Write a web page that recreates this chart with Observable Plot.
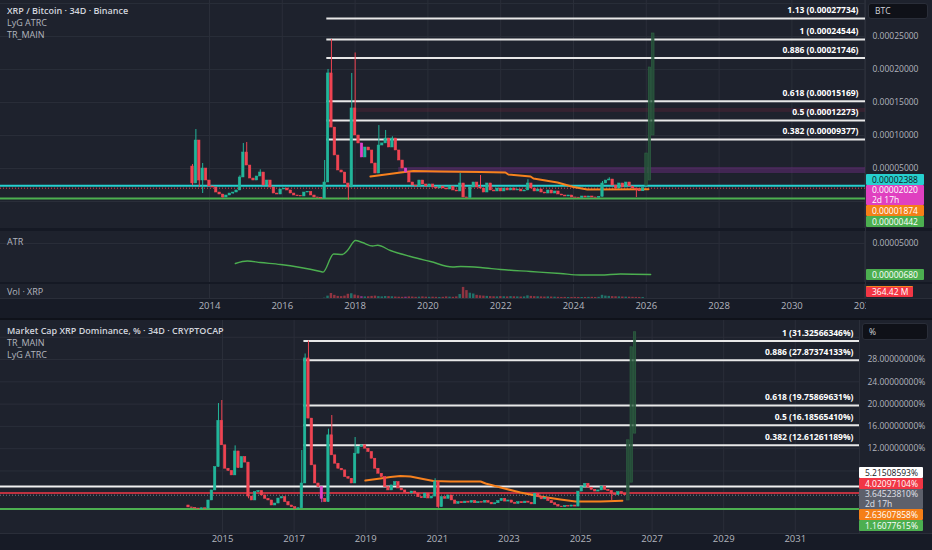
<!DOCTYPE html>
<html>
<head>
<meta charset="utf-8">
<script src="https://cdn.jsdelivr.net/npm/d3@7"></script>
<script src="https://cdn.jsdelivr.net/npm/@observablehq/plot@0.6"></script>
<style>
html,body{margin:0;padding:0;background:#1e222d;}
#chart{position:relative;width:932px;height:550px;overflow:hidden;background:#1e222d;font-family:"Open Sans","Noto Sans",sans-serif;}
#chart > div, #chart > svg{position:absolute;}
.hdr{left:7px;font-size:9px;line-height:11px;height:11px;color:#b2b5be;white-space:nowrap;}
.hdr.b{color:#d1d4dc;font-weight:600;}
.box{font-size:8.5px;line-height:11px;box-sizing:border-box;white-space:nowrap;border-radius:1px;overflow:hidden;}
.box.two{line-height:10px;}
</style>
</head>
<body>
<div id="chart"></div>
<script>
// ---------------- DATA ----------------
const STEP = 34 / 365.25; // one 34D candle, in years

// XRP / Bitcoin (Binance), values in µBTC (1e-6 BTC)
const xrpbtcStart = 2013.533;
const xrpbtcFirstOpen = 53;
const xrpbtcClose = [
  27.3, 92.4, 31.8, 50, 31.8, 22.7, 21.2, 13.6, 10.6, 6.1,
  9.1, 12.1, 13.6, 16.7, 36.4, 74.2, 54.5, 34.8, 31.8, 37.9,
  43.9, 24.2, 31.8, 21.2, 12.1, 10.6, 18.2, 19.7, 16.7, 12.1,
  9.1, 8.0, 7.6, 13.6, 14.5, 9.1, 6.1, 5.6, 4.5, 28.8,
  194, 112, 69.7, 47, 43.9, 27.3, 21.2, 141, 100, 87.9,
  66.7, 81.8, 77.3, 57.6, 42.4, 84.8, 88, 95.4, 81.8, 95.4,
  77.3, 62.1, 50, 43.9, 28.8, 24.2, 22.7, 31.8, 25.8, 22.7,
  25.8, 21.2, 19.7, 22.7, 19.7, 18.2, 22.7, 16.7, 15.2, 27.3,
  6.1, 5.5, 21.2, 28.8, 21.2, 19.7, 13.6, 27.3, 16.7, 15.2,
  19.7, 15.2, 19.7, 16.7, 19.7, 16.7, 18.2, 15.2, 16.7, 27.3,
  19.7, 15.2, 18.2, 13.6, 12.1, 16.7, 12.1, 15.2, 10.6, 9.1,
  7.6, 9.1, 6.1, 5.8, 5.5, 7.6, 6.1, 7.6, 6.1, 5.8,
  7.0, 27.3, 31.8, 33.3, 24.2, 19.7, 27.3, 21.2, 28.8, 22.7,
  19.7, 18.2, 15.5, 20.2
];
const xrpbtcHigh = [[0,56],[1,109],[3,57.6],[14,39],[15,87.9],[16,89.4],[20,48],[39,62.1],[40,200],[41,245.44],[47,194],[48,225],[55,115],[57,107.6],[59,98],[79,42.4],[85,39.4],[99,33],[121,30.3],[123,36]];
const xrpbtcLow = [[0,24],[2,21.2],[3,12.1],[9,5],[12,11],[38,4.42],[46,2],[131,6]];
const xrpbtcPink = [50, 63];
const xrpbtcProjected = [[24, 72.7], [31.8, 203], [100, 254.5]]; // [open, close]
const xrpbtcVolumeM = [
  3,4,3,2,2,3,2,2,1,1,2,2,2,2,5,8,6,4,3,3,4,3,3,2,2,2,2,3,3,2,2,2,2,3,3,2,2,2,3,
  120,900,1900,1200,800,700,900,1600,1800,1300,1000,700,600,650,800,900,700,600,750,700,650,550,
  500,450,500,600,550,450,500,600,500,450,500,450,400,450,600,500,450,600,
  1500,4200,3000,2000,1700,1200,
  1000,900,800,700,650,600,700,650,600,700,650,600,550,600,1000,800,700,650,600,550,
  600,550,500,450,400,420,380,400,420,400,380,400,420,450,400,450,1200,900,800,700,
  650,600,550,500,480,450,420,400,364.42
];
const xrpbtcAtr = [[2014.71,22.2],[2015.04,25.6],[2015.40,23.5],[2015.95,20.8],[2016.5,16.6],[2017.05,11.0],[2017.12,10.2],[2017.41,35.4],[2017.65,34.7],[2017.79,40.3],[2018.01,54.2],[2018.20,51.4],[2018.48,46.5],[2018.62,47.5],[2018.97,40.3],[2019.52,31.9],[2020.07,24.9],[2020.68,17.3],[2020.90,18],[2021.45,16.6],[2022.0,13.8],[2022.82,11.0],[2023.64,8.2],[2024.19,6.1],[2024.74,6.1],[2025.29,7.5],[2026.12,6.8]];
const xrpbtcTrend = [[2018.42,37.9],[2018.84,40.9],[2019.25,43.9],[2019.60,46.2],[2020.35,45.5],[2021.45,44.7],[2022.13,43.9],[2022.21,40.9],[2022.82,37.9],[2022.90,34.8],[2023.56,28.8],[2024.0,22.0],[2024.38,18.2],[2026.06,18.74]];
const xrpbtcFibLevels = [1.13, 1, 0.886, 0.618, 0.5, 0.382];
const xrpbtcFibValues = [277.34, 245.44, 217.46, 151.69, 122.73, 93.77];
const xrpbtcFibFrom = 40; // candle index where the fib lines start
const xrpbtcZones = [[2019.2, 42.4, 51.5, "rgba(110,45,130,0.45)"], [2018.0, 135, 141, "rgba(110,35,55,0.3)"]];
const xrpbtcLine = 23.88, xrpbtcLast = 20.20, xrpbtcTrendLast = 18.74, xrpbtcLowLine = 4.42, xrpbtcAtrLast = 6.80;
const topYears = [2014, 2016, 2018, 2020, 2022, 2024, 2026, 2028, 2030, 2032];
const topPriceTicks = [50, 100, 150, 200, 250];

// Market Cap XRP Dominance, %
const domStart = 2014.05;
const domFirstOpen = 1.8;
const domClose = [
  1.45, 1.35, 1.25, 1.17, 1.3, 1.22, 2.7, 4.5, 8.7, 17.0,
  12.6, 8.4, 8.0, 7.2, 11.5, 8.5, 10.5, 9.5, 3.4, 2.7,
  4.2, 4.4, 3.6, 3.0, 2.7, 1.8, 2.15, 3.05, 3.3, 2.4,
  1.8, 1.5, 1.2, 1.3, 5.75, 28.2, 17.4, 9.0, 5.75, 5.1,
  3.0, 2.4, 14.4, 10.8, 9.3, 8.4, 8.1, 6.9, 6.6, 5.75,
  11.1, 12.3, 12.6, 12.0, 11.4, 10.2, 8.4, 7.5, 6.9, 5.1,
  4.5, 5.4, 6.0, 4.85, 4.5, 4.1, 3.95, 4.3, 3.95, 3.3,
  3.1, 3.95, 3.05, 3.4, 6.0, 1.5, 3.3, 3.0, 3.6, 2.7,
  2.1, 2.4, 2.2, 2.5, 2.3, 2.6, 2.2, 2.4, 2.3, 2.6,
  2.3, 2.0, 2.2, 2.6, 3.0, 2.5, 2.7, 2.3, 2.1, 2.4,
  2.2, 2.5, 2.3, 2.0, 3.9, 3.3, 2.9, 3.1, 2.6, 2.2,
  1.9, 1.6, 1.5, 1.7, 1.6, 1.8, 1.6, 4.3, 5.1, 5.7,
  5.0, 4.6, 4.3, 4.5, 5.2, 4.6, 4.4, 3.9, 3.7, 4.2,
  3.9, 3.65
];
const domHigh = [[9,20.1],[10,20.65],[14,12.5],[34,11.67],[35,29],[36,31.32566346],[42,15.5],[43,17.95],[50,14.0],[74,6.6]];
const domLow = [[3,1.16077615],[18,3.0],[40,2.3],[75,1.3],[127,2.7]];
const domPink = [40];
const domProjected = [[2.7, 13.5], [5.9, 30.2], [14.7, 32.9]];
const domTrend = [[2018.99,6.28],[2019.41,6.64],[2019.69,6.9],[2019.97,7.09],[2020.25,7.0],[2020.53,6.64],[2020.89,6.19],[2021.37,6.1],[2022.21,6.1],[2022.35,5.75],[2022.77,5.03],[2023.32,4.13],[2023.88,3.41],[2024.44,2.87],[2024.86,2.51],[2025.56,2.51],[2026.17,2.636]];
const domFibLevels = [1, 0.886, 0.618, 0.5, 0.382];
const domFibValues = [31.32566346, 27.87374133, 19.75869631, 16.18565410, 12.61261189];
const domFibFrom = 35;
const domWhiteLine = 5.21508593, domRedLine = 4.02097104, domLast = 3.64523810, domTrendLast = 2.63607858, domLowLine = 1.16077615;
const bottomYears = [2015, 2017, 2019, 2021, 2023, 2025, 2027, 2029, 2031];
const domTicks = [12, 16, 20, 24, 28];

// ---------------- HELPERS ----------------
const FONT = '"Open Sans","Noto Sans",sans-serif';
const GREEN = "#22b59a", RED = "#ef4452", PINK = "#e040c8";
const GRID = "#2a2e39";
const chart = document.getElementById("chart");

function candles(start, firstOpen, closes, highs, lows, pink) {
  const H = new Map(highs), L = new Map(lows), P = new Set(pink);
  return closes.map((c, i) => {
    const o = i === 0 ? firstOpen : closes[i - 1];
    return {t: start + i * STEP, o, c,
      h: H.has(i) ? H.get(i) : Math.max(o, c),
      l: L.has(i) ? L.get(i) : Math.min(o, c),
      color: P.has(i) ? PINK : (c >= o ? GREEN : RED)};
  });
}
function projected(start, n, list) {
  return list.map(([o, c], k) => ({t: start + (n + k) * STEP, o, c}));
}
const HALF = STEP * 0.36;
function candleMarks(data, ghost) {
  return [
    Plot.ruleX(data, {x: "t", y1: "l", y2: "h", stroke: "color", strokeWidth: 1}),
    Plot.rect(data, {x1: d => d.t - HALF, x2: d => d.t + HALF, y1: "o", y2: "c", fill: "color", stroke: "color", strokeWidth: 0.5}),
    Plot.rect(ghost, {x1: d => d.t - HALF, x2: d => d.t + HALF, y1: "o", y2: "c", fill: "#26503a", fillOpacity: 0.9, stroke: "#2f6644", strokeWidth: 0.6})
  ];
}
function div(cls, css, html) {
  const d = document.createElement("div");
  if (cls) d.className = cls;
  d.style.cssText = css;
  if (html != null) d.innerHTML = html;
  chart.appendChild(d);
  return d;
}
function place(svg, top) {
  svg.style.position = "absolute";
  svg.style.left = "0px";
  svg.style.top = top + "px";
  chart.appendChild(svg);
}
function yOf(plot, v) {
  const s = plot.scale("y");
  if (s.apply) return s.apply(v);
  return d3.scaleLinear(s.domain, s.range)(v);
}
function boxes(plot, offset, list, limit, left, width, pad) {
  const items = list.map(d => ({...d, top: yOf(plot, d.v) + offset - 5.5, h: d.sub ? 20 : 11}));
  let prev = -Infinity;
  for (const it of items) { it.top = Math.max(it.top, prev); prev = it.top + it.h; }
  const over = prev - limit;
  if (over > 0) items.forEach(it => it.top -= over);
  for (const it of items) {
    div(it.sub ? "box two" : "box", `left:${left}px;width:${width}px;top:${it.top}px;height:${it.h}px;background:${it.bg};color:${it.fg};padding-left:${pad}px;${it.extra || ""}`,
      it.text + (it.sub ? "<br>" + it.sub : ""));
  }
}
const btc = v => (v / 1e6).toFixed(8);
const style = {background: "transparent", color: "#b2b5be", fontSize: "8.5px", fontFamily: FONT, overflow: "visible"};

// ---------------- BACKGROUNDS ----------------
div("", "left:0;top:0;width:932px;height:228px;background:#1e222d");
div("", "left:0;top:228px;width:932px;height:3px;background:#151924");
div("", "left:0;top:231px;width:932px;height:51px;background:#1e222d");
div("", "left:0;top:282px;width:932px;height:2px;background:#151924");
div("", "left:0;top:284px;width:932px;height:14px;background:#1e222d");
div("", "left:0;top:298px;width:932px;height:20px;background:#171b26;border-top:1px solid #2a2e39;box-sizing:border-box");
div("", "left:0;top:318px;width:932px;height:2px;background:#0f121a");
div("", "left:0;top:320px;width:932px;height:213px;background:#1e222d");
div("", "left:0;top:533px;width:932px;height:17px;background:#171b26;border-top:1px solid #2a2e39;box-sizing:border-box");

// ---------------- TOP PRICE PANE ----------------
const topX = [2014 - 209 / 36.4, 2014 + (865 - 209) / 36.4];
const topC = candles(xrpbtcStart, xrpbtcFirstOpen, xrpbtcClose, xrpbtcHigh, xrpbtcLow, xrpbtcPink);
const topG = projected(xrpbtcStart, xrpbtcClose.length, xrpbtcProjected);
const topFibs = xrpbtcFibLevels.map((l, i) => ({l, v: xrpbtcFibValues[i]}));
const topFibStart = topC[xrpbtcFibFrom].t - HALF;
const topPlot = Plot.plot({
  width: 932, height: 228, margin: 0, marginRight: 67,
  x: {domain: topX, axis: null}, y: {domain: [-40.9, 304.5]},
  style,
  marks: [
    Plot.gridY({ticks: [0, 50, 100, 150, 200, 250, 300], stroke: GRID, strokeOpacity: 1}),
    Plot.gridX(topYears, {stroke: GRID, strokeOpacity: 1}),
    Plot.rect(xrpbtcZones, {x1: d => d[0], x2: topX[1], y1: d => d[1], y2: d => d[2], fill: d => d[3]}),
    Plot.ruleY(topFibs, {y: "v", x1: topFibStart, x2: topX[1], stroke: "#e8e8e8", strokeWidth: 2}),
    Plot.text(topFibs, {y: "v", frameAnchor: "right", dx: -7, dy: -8, text: d => `${d.l} (${btc(d.v)})`, fill: "#ffffff", fontWeight: 700, fontSize: 8.5}),
    Plot.ruleY([xrpbtcLine], {stroke: "#26d0ce", strokeWidth: 2}),
    Plot.ruleY([xrpbtcLowLine], {stroke: "#4caf50", strokeWidth: 2}),
    Plot.ruleY([xrpbtcLast], {stroke: RED, strokeWidth: 1, strokeDasharray: "1,2"}),
    Plot.line(xrpbtcTrend, {x: d => d[0], y: d => d[1], stroke: "#f7811e", strokeWidth: 2}),
    ...candleMarks(topC, topG),
    Plot.axisY({anchor: "right", ticks: topPriceTicks, tickFormat: btc, tickSize: 0, tickPadding: 7, label: null, fontSize: 8.5})
  ]
});
place(topPlot, 0);

// ---------------- ATR PANE ----------------
const atrPlot = Plot.plot({
  width: 932, height: 51, margin: 0, marginRight: 67,
  x: {domain: topX, axis: null}, y: {domain: [-4.32, 66.75]},
  style,
  marks: [
    Plot.gridY({ticks: [50], stroke: GRID, strokeOpacity: 1}),
    Plot.gridX(topYears, {stroke: GRID, strokeOpacity: 1}),
    Plot.line(xrpbtcAtr, {x: d => d[0], y: d => d[1], stroke: "#4caf50", strokeWidth: 1.4, curve: "monotone-x"}),
    Plot.axisY({anchor: "right", ticks: [50], tickFormat: btc, tickSize: 0, tickPadding: 7, label: null, fontSize: 8.5})
  ]
});
place(atrPlot, 231);

// ---------------- VOLUME PANE + TIME AXIS ----------------
const vol = topC.map((d, i) => ({t: d.t, v: xrpbtcVolumeM[i], color: d.color}));
const volPlot = Plot.plot({
  width: 932, height: 34, margin: 0, marginRight: 67, marginBottom: 20,
  x: {domain: topX}, y: {domain: [0, 5300], axis: null},
  style: {...style, fontSize: "9.5px"},
  marks: [
    Plot.gridX(topYears, {stroke: GRID, strokeOpacity: 1}),
    Plot.rectY(vol, {x1: d => d.t - HALF, x2: d => d.t + HALF, y: "v", fill: "color", fillOpacity: 0.55}),
    Plot.axisX({anchor: "bottom", ticks: topYears, tickFormat: d => String(d), tickSize: 0, tickPadding: 4, label: null, fontSize: 9.5})
  ]
});
place(volPlot, 284);

// ---------------- BOTTOM DOMINANCE PANE ----------------
const botX = [2015 - 222 / 35.8, 2015 + (860 - 222) / 35.8];
const botC = candles(domStart, domFirstOpen, domClose, domHigh, domLow, domPink);
const botG = projected(domStart, domClose.length, domProjected);
const botFibs = domFibLevels.map((l, i) => ({l, v: domFibValues[i]}));
const botFibStart = botC[domFibFrom].t - HALF;
const botPlot = Plot.plot({
  width: 932, height: 230, margin: 0, marginRight: 72, marginBottom: 17,
  x: {domain: botX}, y: {domain: [-3.23, 35.01]},
  style: {...style},
  marks: [
    Plot.gridY({ticks: [4, 8, 12, 16, 20, 24, 28, 32], stroke: GRID, strokeOpacity: 1}),
    Plot.gridX(bottomYears, {stroke: GRID, strokeOpacity: 1}),
    Plot.ruleY(botFibs, {y: "v", x1: botFibStart, x2: botX[1], stroke: "#e8e8e8", strokeWidth: 2}),
    Plot.text(botFibs, {y: "v", frameAnchor: "right", dx: -7, dy: -8, text: d => `${d.l} (${d.v.toFixed(8)}%)`, fill: "#ffffff", fontWeight: 700, fontSize: 8.5}),
    Plot.ruleY([domWhiteLine], {stroke: "#f0f0f0", strokeWidth: 2}),
    Plot.ruleY([domRedLine], {stroke: "#f23645", strokeWidth: 1.5}),
    Plot.ruleY([domLowLine], {stroke: "#4caf50", strokeWidth: 2}),
    Plot.ruleY([domLast], {stroke: "#787b86", strokeWidth: 1, strokeDasharray: "1,2"}),
    Plot.line(domTrend, {x: d => d[0], y: d => d[1], stroke: "#f7811e", strokeWidth: 2}),
    ...candleMarks(botC, botG),
    Plot.axisY({anchor: "right", ticks: domTicks, tickFormat: d => d.toFixed(8) + "%", tickSize: 0, tickPadding: 7, label: null, fontSize: 8.5}),
    Plot.axisX({anchor: "bottom", ticks: bottomYears, tickFormat: d => String(d), tickSize: 0, tickPadding: 2, label: null, fontSize: 9.5})
  ]
});
place(botPlot, 320);

// ---------------- AXIS BORDERS / CORNERS ----------------
div("", "left:866px;top:299px;width:66px;height:19px;background:#171b26");
div("", "left:865px;top:0;width:1px;height:298px;background:#2a2e39");
div("", "left:859px;top:320px;width:1px;height:213px;background:#2a2e39");
div("", "left:868px;top:3px;width:60px;height:16px;background:#0f1118;border:1px solid #2a2e39;border-radius:3px;box-sizing:border-box;font-size:8.5px;line-height:14px;color:#d1d4dc;padding-left:6px", "BTC");
div("", "left:862px;top:323px;width:66px;height:17px;background:#0f1118;border:1px solid #2a2e39;border-radius:3px;box-sizing:border-box;font-size:8.5px;line-height:15px;color:#d1d4dc;padding-left:6px", "%");

// ---------------- PRICE LABEL BOXES ----------------
boxes(topPlot, 0, [
  {v: xrpbtcLine, text: btc(xrpbtcLine), bg: "#26d0ce", fg: "#131722"},
  {v: xrpbtcLast, text: btc(xrpbtcLast), sub: "2d 17h", bg: "#e040c0", fg: "#ffffff"},
  {v: xrpbtcTrendLast, text: btc(xrpbtcTrendLast), bg: "#f57f17", fg: "#ffffff"},
  {v: xrpbtcLowLine, text: btc(xrpbtcLowLine), bg: "#4caf50", fg: "#ffffff"}
], 227, 866, 58, 6);
boxes(atrPlot, 231, [{v: xrpbtcAtrLast, text: btc(xrpbtcAtrLast), bg: "#4caf50", fg: "#ffffff"}], 281, 866, 58, 6);
boxes(volPlot, 284, [{v: xrpbtcVolumeM[xrpbtcVolumeM.length - 1], text: xrpbtcVolumeM[xrpbtcVolumeM.length - 1].toFixed(2) + " M", bg: "#f23645", fg: "#ffffff", extra: "border-top:1px solid #f7811e;line-height:10px"}], 297, 866, 47, 6);
boxes(botPlot, 320, [
  {v: domWhiteLine, text: domWhiteLine.toFixed(8) + "%", bg: "#ffffff", fg: "#131722"},
  {v: domRedLine, text: domRedLine.toFixed(8) + "%", bg: "#f23645", fg: "#ffffff"},
  {v: domLast, text: domLast.toFixed(8) + "%", sub: "2d 17h", bg: "#5d606b", fg: "#e0e3eb"},
  {v: domTrendLast, text: domTrendLast.toFixed(8) + "%", bg: "#f57f17", fg: "#ffffff"},
  {v: domLowLine, text: domLowLine.toFixed(8) + "%", bg: "#4caf50", fg: "#ffffff"}
], 531, 859, 64, 6);

// ---------------- PANE TITLES ----------------
div("hdr b", "top:5px", "XRP / Bitcoin · 34D · Binance");
div("hdr", "top:17px", "LyG ATRC");
div("hdr", "top:29px", "TR_MAIN");
div("hdr", "top:236px", "ATR");
div("hdr", "top:286px", "Vol · XRP");
div("hdr b", "top:325px", "Market Cap XRP Dominance, % · 34D · CRYPTOCAP");
div("hdr", "top:337px", "TR_MAIN");
div("hdr", "top:349px", "LyG ATRC");
</script>
</body>
</html>
